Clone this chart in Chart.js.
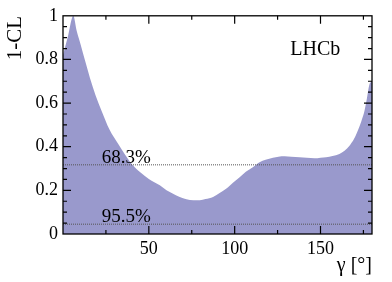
<!DOCTYPE html>
<html>
<head>
<meta charset="utf-8">
<script src="https://cdn.jsdelivr.net/npm/chart.js@4"></script>
<style>
html,body{margin:0;padding:0;background:#fff;}
canvas{display:block;}
</style>
</head>
<body>
<canvas id="c" width="392" height="282"></canvas>
<script>
// ---- data ----
const gammaDeg = [0, 3, 6, 8, 10.3, 13, 15.7, 19, 22.5, 27, 32.2, 36, 40, 45, 50, 56.4, 60.3, 64.1, 68, 71.9, 76, 79.7, 83, 87.4, 91, 95.2, 99, 102.9, 106.5, 110.6, 114.5, 118, 122.3, 125.5, 129.1, 133, 137.8, 142, 146.5, 150, 153.3, 157, 161, 164, 166.9, 169.5, 171.7, 173.7, 175.6, 177, 178.5, 180];
const oneMinusCL = [0.82, 0.91, 1.0, 0.93, 0.867, 0.79, 0.715, 0.635, 0.564, 0.48, 0.412, 0.365, 0.321, 0.283, 0.252, 0.223, 0.2, 0.185, 0.17, 0.159, 0.155, 0.155, 0.16, 0.17, 0.187, 0.208, 0.235, 0.26, 0.285, 0.306, 0.329, 0.34, 0.349, 0.354, 0.356, 0.354, 0.352, 0.349, 0.347, 0.35, 0.352, 0.357, 0.367, 0.382, 0.405, 0.435, 0.473, 0.515, 0.564, 0.62, 0.685, 0.70];
const clLevels = [0.317, 0.045];
const clLabels = ['68.3%', '95.5%'];
const xTicks = [50, 100, 150];
const yTicks = [0, 0.2, 0.4, 0.6, 0.8, 1];
const xRange = [0, 180];
const yRange = [0, 1];
const xTitle = 'γ [°]';
const yTitle = '1-CL';
const experiment = 'LHCb';

const SERIF = '"Liberation Serif", "DejaVu Serif", serif';

const curve = gammaDeg.map((g, i) => ({x: g, y: oneMinusCL[i]}));
const levelSets = clLevels.map(v => ({
  data: [{x: xRange[0], y: v}, {x: xRange[1], y: v}],
  borderColor: '#555555', borderWidth: 1, borderDash: [1, 1],
  pointRadius: 0, fill: false, order: 1
}));

const framePlugin = {
  id: 'frame',
  afterDatasetsDraw(chart) {
    const {ctx, chartArea: a, scales: {x, y}} = chart;
    ctx.save();
    ctx.strokeStyle = '#000';
    ctx.lineWidth = 1.3;
    ctx.strokeRect(a.left, a.top, a.right - a.left, a.bottom - a.top);
    ctx.lineWidth = 1.2;
    ctx.beginPath();
    for (let v = 25; v < xRange[1]; v += 25) {
      const px = x.getPixelForValue(v);
      const len = (v % 50 === 0) ? 8 : 4;
      ctx.moveTo(px, a.bottom); ctx.lineTo(px, a.bottom - len);
      ctx.moveTo(px, a.top); ctx.lineTo(px, a.top + len);
    }
    for (let k = 1; k < 20; k++) {
      const v = k * 0.05;
      const py = y.getPixelForValue(v);
      const len = (k % 4 === 0) ? 8 : 4;
      ctx.moveTo(a.left, py); ctx.lineTo(a.left + len, py);
      ctx.moveTo(a.right, py); ctx.lineTo(a.right - len, py);
    }
    ctx.stroke();
    // labels
    ctx.fillStyle = '#000';
    ctx.font = '19px ' + SERIF;
    ctx.textAlign = 'left';
    ctx.textBaseline = 'alphabetic';
    clLevels.forEach((v, i) => {
      ctx.fillText(clLabels[i], x.getPixelForValue(22.5), y.getPixelForValue(v) - 2);
    });
    ctx.font = '20px ' + SERIF;
    ctx.fillText(experiment, x.getPixelForValue(132.4), y.getPixelForValue(0.821));
    ctx.restore();
  }
};

new Chart(document.getElementById('c'), {
  type: 'line',
  data: {
    datasets: [{
      data: curve,
      backgroundColor: '#9999cc',
      borderWidth: 0,
      borderColor: 'rgba(0,0,0,0)',
      pointRadius: 0,
      fill: 'origin',
      order: 2,
      cubicInterpolationMode: 'monotone'
    }, ...levelSets]
  },
  options: {
    responsive: false,
    animation: false,
    layout: {padding: {top: 14, right: 20, left: 0, bottom: 0}},
    plugins: {legend: {display: false}, tooltip: {enabled: false}},
    scales: {
      x: {
        type: 'linear', min: xRange[0], max: xRange[1],
        grid: {display: false, drawTicks: false},
        border: {display: false},
        afterBuildTicks: s => { s.ticks = xTicks.map(v => ({value: v})); },
        afterFit: s => { s.height = 48; },
        ticks: {font: {family: SERIF, size: 18}, color: '#000', padding: 4, maxRotation: 0},
        title: {display: true, text: xTitle, align: 'end', color: '#000', font: {family: SERIF, size: 20}, padding: {top: 0, bottom: 4}}
      },
      y: {
        type: 'linear', min: yRange[0], max: yRange[1],
        grid: {display: false, drawTicks: false},
        border: {display: false},
        afterBuildTicks: s => { s.ticks = yTicks.map(v => ({value: v})); },
        afterFit: s => { s.width = 63; },
        ticks: {font: {family: SERIF, size: 18}, color: '#000', padding: 5,
                callback: v => String(Math.round(v * 10) / 10)},
        title: {display: true, text: yTitle, align: 'end', color: '#000', font: {family: SERIF, size: 21}, padding: {top: 3, bottom: 0}}
      }
    }
  },
  plugins: [framePlugin]
});
</script>
</body>
</html>
